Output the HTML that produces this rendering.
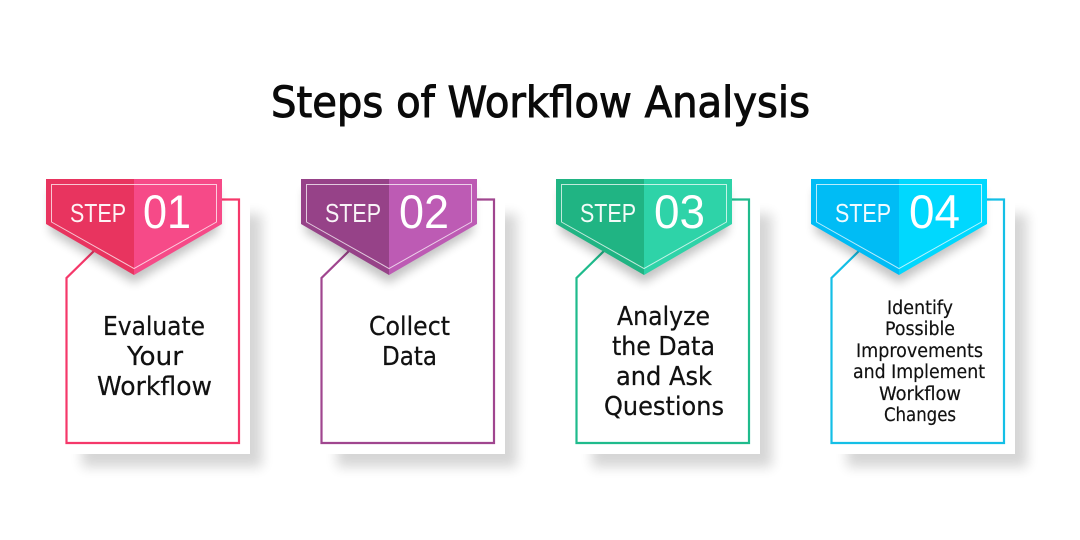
<!DOCTYPE html>
<html><head><meta charset="utf-8"><style>
html,body{margin:0;padding:0;background:#fff;width:1080px;height:540px;overflow:hidden}
svg{display:block}
text{font-family:"DejaVu Sans","Liberation Sans",sans-serif;fill:#111}
.l{font-size:25.5px;stroke:#111;stroke-width:.25}
.s{font-size:18.5px;stroke:#111;stroke-width:.2}
.st{font-family:"Liberation Sans",sans-serif;font-size:26px;fill:#fff;fill-opacity:.94}
.n{font-family:"Liberation Sans",sans-serif;font-size:47px;fill:#fff}
</style></head><body>
<svg width="1080" height="540" viewBox="0 0 1080 540" xmlns="http://www.w3.org/2000/svg">
<defs>
<filter id="b1" x="-20%" y="-20%" width="140%" height="140%"><feGaussianBlur stdDeviation="6"/></filter>
<filter id="b2" x="-20%" y="-30%" width="140%" height="160%"><feGaussianBlur stdDeviation="5"/></filter>
<g id="sh"><rect x="82" y="214" width="180" height="253" fill="#000" opacity=".16" filter="url(#b1)"/><rect x="40" y="170" width="210" height="284" fill="#fff"/></g>
<polygon id="bs" points="50,190 218,190 218,232 134,283 50,232" fill="#000" opacity=".24" filter="url(#b2)"/>
<polygon id="il" points="51.5,184.5 216.5,184.5 216.5,222 134,268.5 51.5,222" fill="none" stroke="#fff" stroke-opacity=".72" stroke-width="1"/>
</defs>
<rect width="1080" height="540" fill="#fff"/>
<text x="271" y="117" font-size="43" textLength="539" lengthAdjust="spacingAndGlyphs" style="fill:#0a0a0a;stroke:#0a0a0a;stroke-width:1">Steps of Workflow Analysis</text>

<g><use href="#sh"/>
<path d="M215 199.5H239V443H66.5V278L96 249" fill="none" stroke="#f5386a" stroke-width="2.2"/>
<use href="#bs"/>
<polygon points="46,179 134,179 134,275 46,224" fill="#e8345f"/><polygon points="134,179 222,179 222,224 134,275" fill="#f64a88"/>
<use href="#il"/></g>

<g transform="translate(255)"><use href="#sh"/>
<path d="M215 199.5H239V443H66.5V278L96 249" fill="none" stroke="#a0468f" stroke-width="2.2"/>
<use href="#bs"/>
<polygon points="46,179 134,179 134,275 46,224" fill="#964288"/><polygon points="134,179 222,179 222,224 134,275" fill="#bd5bb4"/>
<use href="#il"/></g>

<g transform="translate(510)"><use href="#sh"/>
<path d="M215 199.5H239V443H66.5V278L96 249" fill="none" stroke="#1fbb8c" stroke-width="2.2"/>
<use href="#bs"/>
<polygon points="46,179 134,179 134,275 46,224" fill="#20b483"/><polygon points="134,179 222,179 222,224 134,275" fill="#2ed3a8"/>
<use href="#il"/></g>

<g transform="translate(765)"><use href="#sh"/>
<path d="M215 199.5H239V443H66.5V278L96 249" fill="none" stroke="#14bfe6" stroke-width="2.2"/>
<use href="#bs"/>
<polygon points="46,179 134,179 134,275 46,224" fill="#00bcf5"/><polygon points="134,179 222,179 222,224 134,275" fill="#00d8fe"/>
<use href="#il"/></g>

<text class="st" x="70" y="222" textLength="56" lengthAdjust="spacingAndGlyphs">STEP</text>
<text class="n" x="143" y="228" textLength="48" lengthAdjust="spacingAndGlyphs">01</text>
<text class="st" x="325" y="222" textLength="56" lengthAdjust="spacingAndGlyphs">STEP</text>
<text class="n" x="399" y="228" textLength="50" lengthAdjust="spacingAndGlyphs">02</text>
<text class="st" x="580" y="222" textLength="56" lengthAdjust="spacingAndGlyphs">STEP</text>
<text class="n" x="654" y="228" textLength="51" lengthAdjust="spacingAndGlyphs">03</text>
<text class="st" x="835" y="222" textLength="56" lengthAdjust="spacingAndGlyphs">STEP</text>
<text class="n" x="909" y="228" textLength="51" lengthAdjust="spacingAndGlyphs">04</text>

<text class="l" x="103" y="335" textLength="102" lengthAdjust="spacingAndGlyphs">Evaluate</text>
<text class="l" x="127" y="365" textLength="56" lengthAdjust="spacingAndGlyphs">Your</text>
<text class="l" x="97" y="395" textLength="115" lengthAdjust="spacingAndGlyphs">Workflow</text>

<text class="l" x="369" y="335" textLength="81" lengthAdjust="spacingAndGlyphs">Collect</text>
<text class="l" x="382" y="365" textLength="55" lengthAdjust="spacingAndGlyphs">Data</text>

<text class="l" x="617" y="325" textLength="93" lengthAdjust="spacingAndGlyphs">Analyze</text>
<text class="l" x="612" y="355" textLength="103" lengthAdjust="spacingAndGlyphs">the Data</text>
<text class="l" x="616" y="385" textLength="96" lengthAdjust="spacingAndGlyphs">and Ask</text>
<text class="l" x="604" y="415" textLength="120" lengthAdjust="spacingAndGlyphs">Questions</text>

<text class="s" x="887" y="314" textLength="66" lengthAdjust="spacingAndGlyphs">Identify</text>
<text class="s" x="885" y="335" textLength="70" lengthAdjust="spacingAndGlyphs">Possible</text>
<text class="s" x="856" y="357" textLength="127" lengthAdjust="spacingAndGlyphs">Improvements</text>
<text class="s" x="853" y="378" textLength="132" lengthAdjust="spacingAndGlyphs">and Implement</text>
<text class="s" x="879" y="400" textLength="82" lengthAdjust="spacingAndGlyphs">Workflow</text>
<text class="s" x="884" y="421" textLength="72" lengthAdjust="spacingAndGlyphs">Changes</text>
</svg>
</body></html>
